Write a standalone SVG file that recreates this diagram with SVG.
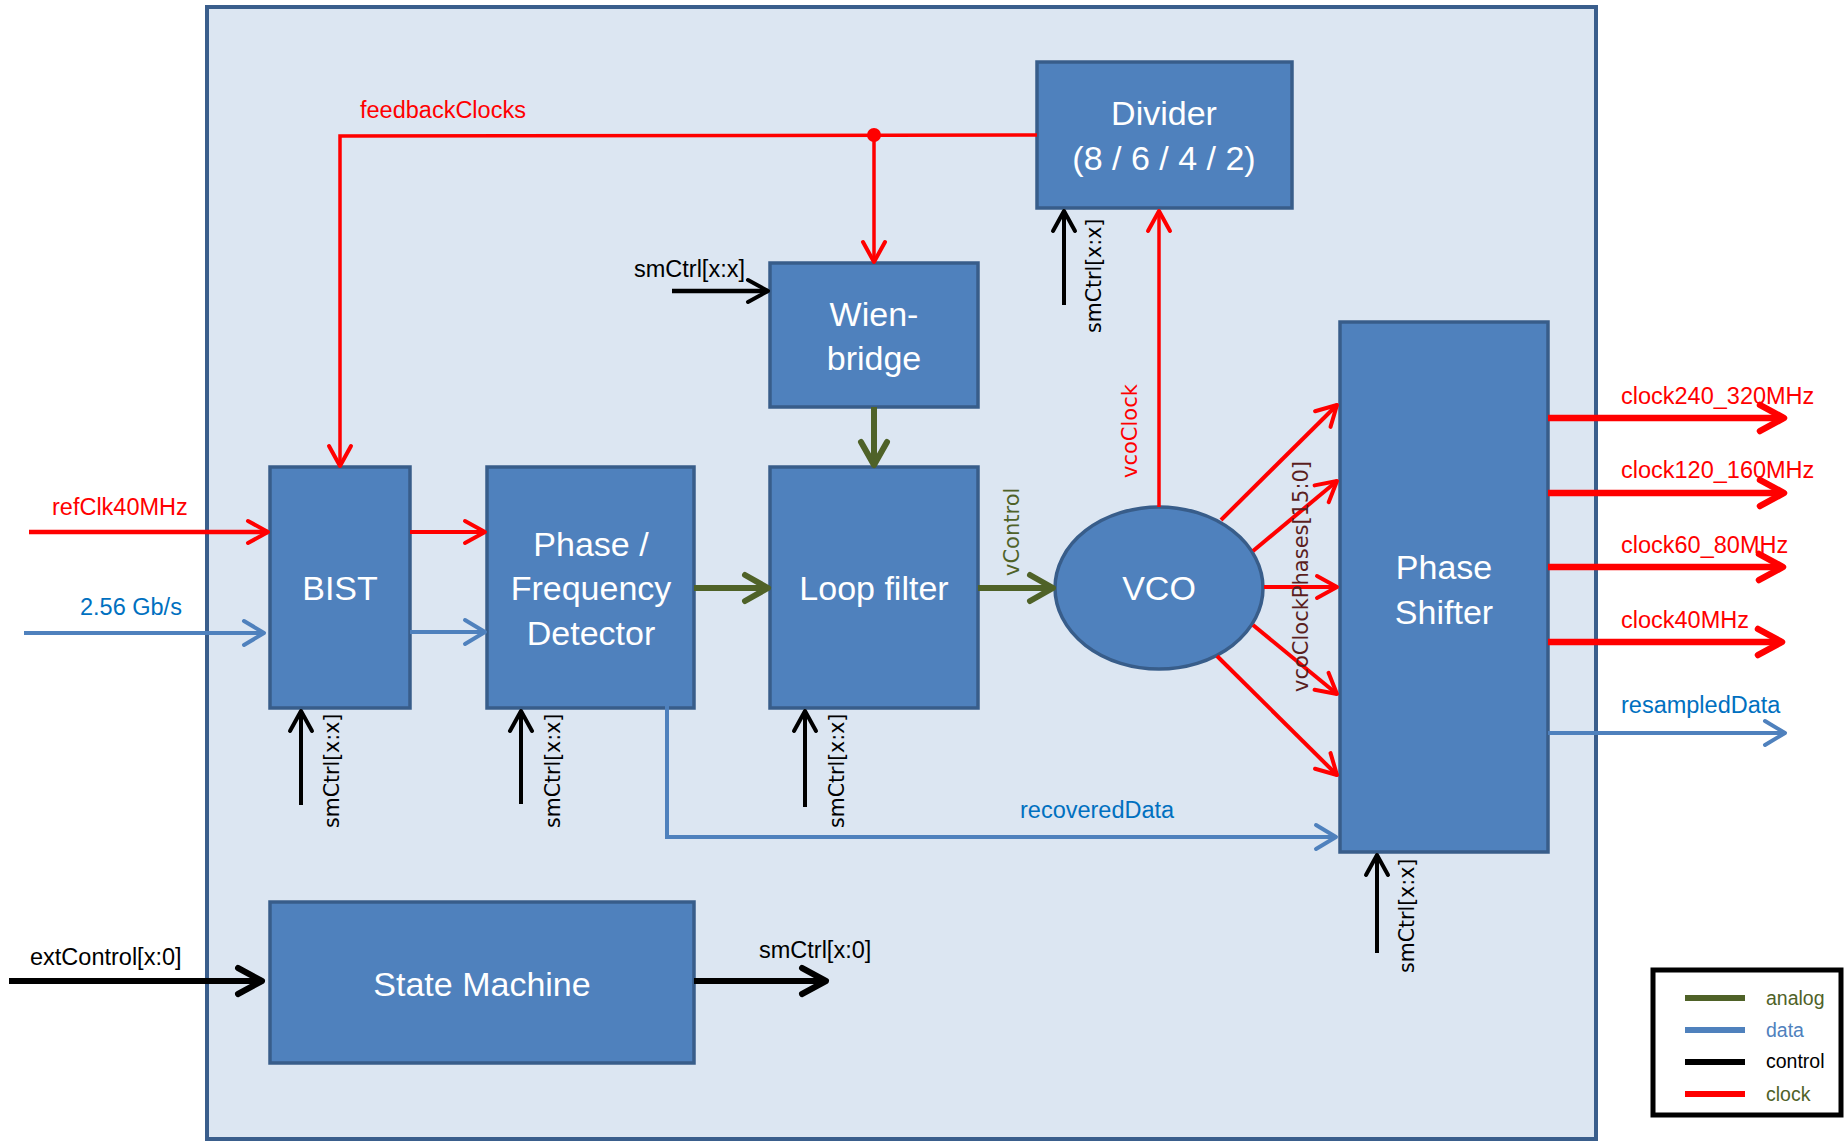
<svg xmlns="http://www.w3.org/2000/svg" width="1845" height="1141" viewBox="0 0 1845 1141">
<style>
.blk{fill:#4F81BD;stroke:#385D8A;stroke-width:3.5}
.bt{font-family:"Liberation Sans",Arial,sans-serif;font-size:34px;fill:#fff;text-anchor:middle}
.lb{font-family:"Liberation Sans",Arial,sans-serif;font-size:23.5px}
.rl{font-family:"DejaVu Sans",Verdana,sans-serif;font-size:20.5px}
.rl2{font-family:"DejaVu Sans",Verdana,sans-serif;font-size:21px}
.lg{font-family:"Liberation Sans",Arial,sans-serif;font-size:19.5px}
.c{fill:none;stroke-linecap:butt;stroke-linejoin:miter}
.red{stroke:#FF0000}
.blue{stroke:#4F81BD}
.olive{stroke:#4F6228}
.blk2{stroke:#000}
</style>
<defs>
<marker id="aR" markerUnits="userSpaceOnUse" overflow="visible" orient="auto" refX="0" refY="0" markerWidth="1" markerHeight="1"><path d="M-20,-11 L0,0 L-20,11" fill="none" stroke="#FF0000" stroke-width="4" stroke-linecap="round" stroke-linejoin="round"/></marker>
<marker id="aRB" markerUnits="userSpaceOnUse" overflow="visible" orient="auto" refX="0" refY="0" markerWidth="1" markerHeight="1"><path d="M-24,-13 L0,0 L-24,13" fill="none" stroke="#FF0000" stroke-width="6.5" stroke-linecap="round" stroke-linejoin="round"/></marker>
<marker id="aB" markerUnits="userSpaceOnUse" overflow="visible" orient="auto" refX="0" refY="0" markerWidth="1" markerHeight="1"><path d="M-20,-12 L0,0 L-20,12" fill="none" stroke="#4F81BD" stroke-width="4" stroke-linecap="round" stroke-linejoin="round"/></marker>
<marker id="aO" markerUnits="userSpaceOnUse" overflow="visible" orient="auto" refX="0" refY="0" markerWidth="1" markerHeight="1"><path d="M-23,-13 L0,0 L-23,13" fill="none" stroke="#4F6228" stroke-width="6" stroke-linecap="round" stroke-linejoin="round"/></marker>
<marker id="aK" markerUnits="userSpaceOnUse" overflow="visible" orient="auto" refX="0" refY="0" markerWidth="1" markerHeight="1"><path d="M-20,-11 L0,0 L-20,11" fill="none" stroke="#000" stroke-width="4" stroke-linecap="round" stroke-linejoin="round"/></marker>
<marker id="aKB" markerUnits="userSpaceOnUse" overflow="visible" orient="auto" refX="0" refY="0" markerWidth="1" markerHeight="1"><path d="M-24,-13 L0,0 L-24,13" fill="none" stroke="#000" stroke-width="6" stroke-linecap="round" stroke-linejoin="round"/></marker>
</defs>
<rect width="1845" height="1141" fill="#fff"/>
<g id="frame"><rect x="207" y="7" width="1389" height="1132" fill="#DCE6F2" stroke="#3A5E8C" stroke-width="4"/></g>

<g id="BIST"><rect class="blk" x="270" y="467" width="140" height="241"/><text class="bt" x="340" y="600">BIST</text></g>
<g id="PFD"><rect class="blk" x="487" y="467" width="207" height="241"/><text class="bt" x="591" y="556">Phase /</text><text class="bt" x="591" y="600">Frequency</text><text class="bt" x="591" y="645">Detector</text></g>
<g id="LoopFilter"><rect class="blk" x="770" y="467" width="208" height="241"/><text class="bt" x="874" y="600">Loop filter</text></g>
<g id="WienBridge"><rect class="blk" x="770" y="263" width="208" height="144"/><text class="bt" x="874" y="326">Wien-</text><text class="bt" x="874" y="370">bridge</text></g>
<g id="Divider"><rect class="blk" x="1037" y="62" width="255" height="146"/><text class="bt" x="1164" y="125">Divider</text><text class="bt" x="1164" y="170">(8 / 6 / 4 / 2)</text></g>
<g id="VCO"><ellipse class="blk" cx="1159" cy="588" rx="104" ry="81"/><text class="bt" x="1159" y="600">VCO</text></g>
<g id="PhaseShifter"><rect class="blk" x="1340" y="322" width="208" height="530"/><text class="bt" x="1444" y="579">Phase</text><text class="bt" x="1444" y="624">Shifter</text></g>
<g id="StateMachine"><rect class="blk" x="270" y="902" width="424" height="161"/><text class="bt" x="482" y="996">State Machine</text></g>

<g id="connectors">
<path class="c red" stroke-width="3.5" d="M1037,135 L340,136 L340,466" marker-end="url(#aR)"/>
<path class="c red" stroke-width="3.5" d="M874,135 L874,262" marker-end="url(#aR)"/>
<circle cx="874" cy="135" r="7" fill="#FF0000"/>
<path class="c blk2" stroke-width="4.5" d="M672,291 L768,291" marker-end="url(#aK)"/>
<path class="c olive" stroke-width="6" d="M874,407 L874,465" marker-end="url(#aO)"/>
<path class="c red" stroke-width="4.5" d="M29,532 L268,532" marker-end="url(#aR)"/>
<path class="c red" stroke-width="4" d="M410,532 L485,532" marker-end="url(#aR)"/>
<path class="c blue" stroke-width="4" d="M24,633 L264,633" marker-end="url(#aB)"/>
<path class="c blue" stroke-width="4" d="M410,632 L485,632" marker-end="url(#aB)"/>
<path class="c olive" stroke-width="6" d="M694,588 L768,588" marker-end="url(#aO)"/>
<path class="c olive" stroke-width="6" d="M978,588 L1053,588" marker-end="url(#aO)"/>
<path class="c red" stroke-width="3.5" d="M1159,507 L1159,211" marker-end="url(#aR)"/>
<path class="c blk2" stroke-width="4" d="M1064,305 L1064,211" marker-end="url(#aK)"/>
<path class="c red" stroke-width="4" d="M1221,520 L1337,405" marker-end="url(#aR)"/>
<path class="c red" stroke-width="4" d="M1253,551 L1337,481" marker-end="url(#aR)"/>
<path class="c red" stroke-width="4" d="M1264,587 L1337,587" marker-end="url(#aR)"/>
<path class="c red" stroke-width="4" d="M1253,625 L1337,694" marker-end="url(#aR)"/>
<path class="c red" stroke-width="4" d="M1217,656 L1337,775" marker-end="url(#aR)"/>
<path class="c red" stroke-width="6.5" d="M1548,418 L1784,418" marker-end="url(#aRB)"/>
<path class="c red" stroke-width="6.5" d="M1548,493 L1784,493" marker-end="url(#aRB)"/>
<path class="c red" stroke-width="6.5" d="M1548,567 L1783,567" marker-end="url(#aRB)"/>
<path class="c red" stroke-width="6.5" d="M1548,642 L1782,642" marker-end="url(#aRB)"/>
<path class="c blue" stroke-width="4" d="M1548,733 L1785,733" marker-end="url(#aB)"/>
<path class="c blue" stroke-width="4" d="M667,698 L667,837 L1336,837" marker-end="url(#aB)"/>
<path class="c blk2" stroke-width="4" d="M301,805 L301,711" marker-end="url(#aK)"/>
<path class="c blk2" stroke-width="4" d="M521,804 L521,711" marker-end="url(#aK)"/>
<path class="c blk2" stroke-width="4" d="M805,807 L805,711" marker-end="url(#aK)"/>
<path class="c blk2" stroke-width="4" d="M1377,953 L1377,855" marker-end="url(#aK)"/>
<path class="c blk2" stroke-width="6" d="M9,981 L262,981" marker-end="url(#aKB)"/>
<path class="c blk2" stroke-width="6" d="M694,981 L826,981" marker-end="url(#aKB)"/>
</g>

<g id="labels">
<text class="lb" x="360" y="118" fill="#FF0000">feedbackClocks</text>
<text class="lb" x="634" y="277" fill="#000">smCtrl[x:x]</text>
<text class="lb" x="52" y="515" fill="#FF0000">refClk40MHz</text>
<text class="lb" x="80" y="615" fill="#0070C0">2.56 Gb/s</text>
<text class="lb" x="30" y="965" fill="#000">extControl[x:0]</text>
<text class="lb" x="759" y="958" fill="#000">smCtrl[x:0]</text>
<text class="lb" x="1020" y="818" fill="#0070C0">recoveredData</text>
<text class="lb" x="1621" y="404" fill="#FF0000">clock240_320MHz</text>
<text class="lb" x="1621" y="478" fill="#FF0000">clock120_160MHz</text>
<text class="lb" x="1621" y="553" fill="#FF0000">clock60_80MHz</text>
<text class="lb" x="1621" y="628" fill="#FF0000">clock40MHz</text>
<text class="lb" x="1621" y="713" fill="#0070C0">resampledData</text>
<text class="rl" transform="translate(339,828) rotate(-90)" fill="#000">smCtrl[x:x]</text>
<text class="rl" transform="translate(560,828) rotate(-90)" fill="#000">smCtrl[x:x]</text>
<text class="rl" transform="translate(844,828) rotate(-90)" fill="#000">smCtrl[x:x]</text>
<text class="rl" transform="translate(1101,333) rotate(-90)" fill="#000">smCtrl[x:x]</text>
<text class="rl" transform="translate(1414,973) rotate(-90)" fill="#000">smCtrl[x:x]</text>
<text class="rl2" transform="translate(1137,478) rotate(-90)" fill="#FF0000">vcoClock</text>
<text class="rl2" transform="translate(1019,576) rotate(-90)" fill="#4F6228">vControl</text>
<text class="rl2" transform="translate(1308,692) rotate(-90)" fill="#5A1E1E">vcoClockPhases[15:0]</text>
</g>

<g id="legend">
<rect x="1653" y="970" width="188" height="145" fill="#fff" stroke="#000" stroke-width="5"/>
<line x1="1685" y1="998" x2="1745" y2="998" stroke="#4F6228" stroke-width="6"/>
<line x1="1685" y1="1030" x2="1745" y2="1030" stroke="#4F81BD" stroke-width="6"/>
<line x1="1685" y1="1062" x2="1745" y2="1062" stroke="#000" stroke-width="6"/>
<line x1="1685" y1="1094" x2="1745" y2="1094" stroke="#FF0000" stroke-width="6"/>
<text class="lg" x="1766" y="1005" fill="#4F6228">analog</text>
<text class="lg" x="1766" y="1037" fill="#4F81BD">data</text>
<text class="lg" x="1766" y="1068" fill="#000">control</text>
<text class="lg" x="1766" y="1101" fill="#4F6228">clock</text>
</g>
</svg>
